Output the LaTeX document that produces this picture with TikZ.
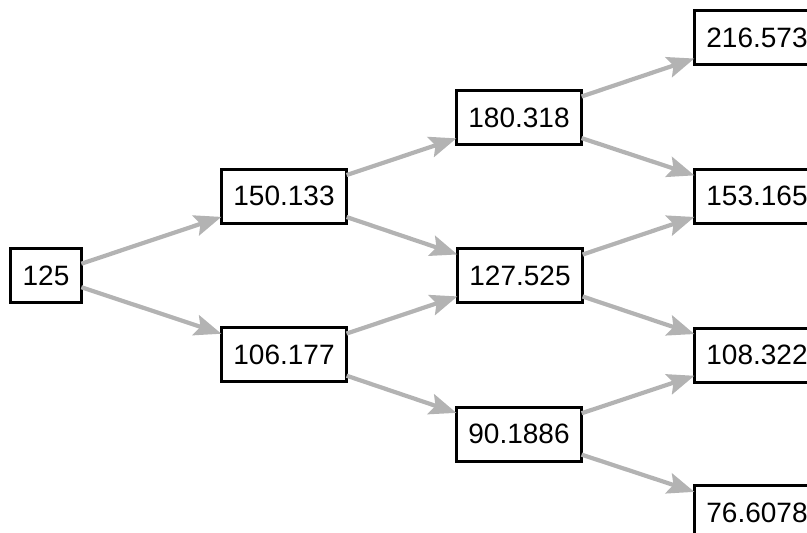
\documentclass[tikz,border=0pt]{standalone}
\usepackage{fontspec}
\setmainfont{Liberation Sans}
\usetikzlibrary{arrows.meta}
\definecolor{edgegray}{RGB}{179,179,179}
\begin{document}
\begin{tikzpicture}[x=1pt,y=-1pt,
  valbox/.style={draw=black,line width=3pt,fill=white,font=\fontsize{28}{28}\selectfont,
    minimum height=54pt,inner xsep=12pt,inner ysep=0pt,outer sep=0pt},
  branch/.style={draw=edgegray,line width=4.2pt,
    -{Stealth[length=27pt,width=21pt,inset=5pt]}}]
\useasboundingbox (0,0) rectangle (807,533);
\clip (0,0) rectangle (807,533);
% tree of values, one column per step
\node[valbox] (n0)  at (46,275.5)  {125};
\node[valbox] (n1a) at (284,196)   {150.133};
\node[valbox] (n1b) at (284,354.5) {106.177};
\node[valbox] (n2a) at (519,117.5) {180.318};
\node[valbox] (n2b) at (520,275.5) {127.525};
\node[valbox] (n2c) at (519,434)   {90.1886};
\node[valbox] (n3a) at (757,37.5)  {216.573};
\node[valbox] (n3b) at (757,196)   {153.165};
\node[valbox] (n3c) at (757,355)   {108.322};
\node[valbox] (n3d) at (757,512.5) {76.6078};
% branches
\draw[branch] (n0) -- (n1a);
\draw[branch] (n0) -- (n1b);
\draw[branch] (n1a) -- (n2a);
\draw[branch] (n1a) -- (n2b);
\draw[branch] (n1b) -- (n2b);
\draw[branch] (n1b) -- (n2c);
\draw[branch] (n2a) -- (n3a);
\draw[branch] (n2a) -- (n3b);
\draw[branch] (n2b) -- (n3b);
\draw[branch] (n2b) -- (n3c);
\draw[branch] (n2c) -- (n3c);
\draw[branch] (n2c) -- (n3d);
\end{tikzpicture}
\end{document}
